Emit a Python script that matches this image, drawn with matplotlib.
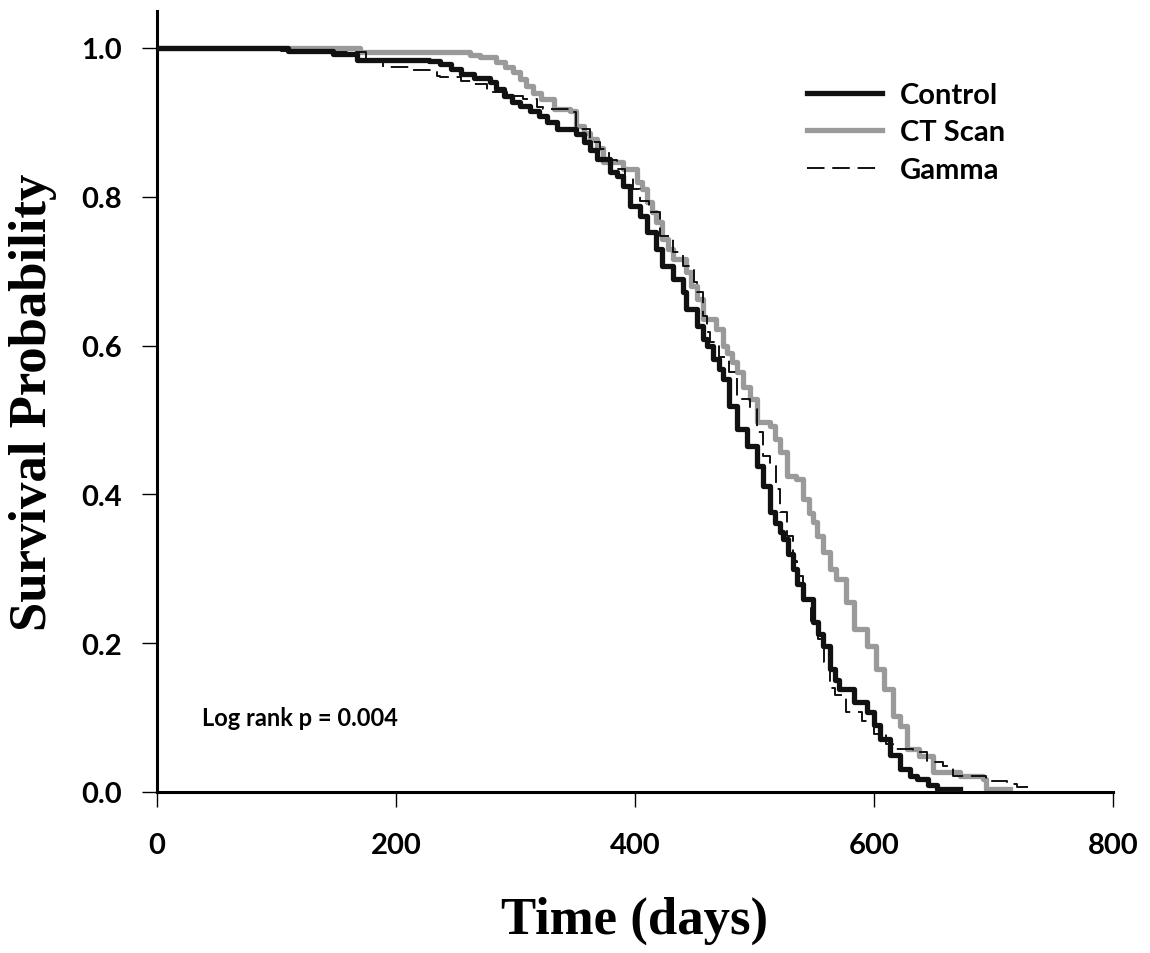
import numpy as np
import matplotlib.pyplot as plt

# Kaplan-Meier curves (time in days, survival probability)
ctrl_t = [0, 110, 147, 167, 228, 237, 246, 254, 265, 279, 284, 290, 297, 304, 312, 320, 326, 335,
          351, 357, 362, 368, 379, 385, 390, 396, 404, 410, 418, 423, 432, 440, 443, 452, 457,
          460, 465, 470, 474, 479, 485, 494, 502, 507, 513, 517, 521, 524, 528, 532, 536, 541,
          549, 553, 557, 563, 567, 571, 583, 594, 600, 605, 613, 622, 630, 636, 645, 653, 672]
ctrl_s = [1.0, 0.996, 0.992, 0.984, 0.982, 0.978, 0.972, 0.965, 0.960, 0.954, 0.945, 0.935,
          0.928, 0.922, 0.915, 0.909, 0.900, 0.891, 0.884, 0.874, 0.863, 0.851, 0.833, 0.828,
          0.815, 0.788, 0.774, 0.753, 0.730, 0.707, 0.690, 0.672, 0.649, 0.626, 0.609, 0.599,
          0.582, 0.568, 0.555, 0.519, 0.488, 0.465, 0.438, 0.411, 0.376, 0.362, 0.349, 0.340,
          0.320, 0.300, 0.280, 0.259, 0.228, 0.212, 0.196, 0.165, 0.150, 0.138, 0.121, 0.107,
          0.090, 0.071, 0.050, 0.031, 0.022, 0.017, 0.010, 0.004, 0.004]

ct_t = [0, 170, 262, 270, 284, 291, 298, 304, 309, 315, 321, 332, 346, 351, 357, 362, 368, 373,
        390, 402, 406, 410, 414, 418, 423, 428, 432, 443, 447, 452, 457, 468, 474, 477, 481, 485,
        490, 496, 502, 513, 517, 521, 527, 535, 541, 546, 549, 552, 557, 563, 568, 577, 583, 594,
        602, 608, 616, 622, 628, 638, 649, 672, 691, 694, 714]
ct_s = [1.0, 0.995, 0.990, 0.988, 0.981, 0.975, 0.968, 0.958, 0.949, 0.940, 0.931, 0.918, 0.915,
        0.895, 0.886, 0.878, 0.866, 0.847, 0.837, 0.820, 0.810, 0.793, 0.780, 0.766, 0.743, 0.730,
        0.716, 0.699, 0.680, 0.663, 0.636, 0.622, 0.599, 0.590, 0.578, 0.565, 0.545, 0.528, 0.497,
        0.492, 0.475, 0.457, 0.425, 0.421, 0.394, 0.375, 0.363, 0.344, 0.322, 0.300, 0.286, 0.255,
        0.219, 0.196, 0.165, 0.138, 0.102, 0.089, 0.058, 0.048, 0.027, 0.022, 0.017, 0.004, 0.004]

gam_t = [0, 103, 125, 175, 189, 214, 234, 237, 254, 265, 276, 293, 306, 318, 323, 346, 351, 362,
         371, 378, 385, 392, 398, 404, 412, 421, 432, 440, 449, 452, 457, 460, 463, 470, 479, 485,
         496, 502, 507, 513, 518, 521, 527, 532, 536, 541, 547, 553, 558, 563, 567, 577, 590, 600,
         610, 616, 633, 644, 658, 666, 694, 711, 720, 733]
gam_s = [1.0, 0.996, 0.994, 0.985, 0.974, 0.970, 0.963, 0.961, 0.956, 0.952, 0.941, 0.936, 0.931,
         0.921, 0.918, 0.914, 0.891, 0.874, 0.864, 0.850, 0.838, 0.825, 0.810, 0.795, 0.780, 0.747,
         0.726, 0.707, 0.685, 0.672, 0.640, 0.618, 0.605, 0.585, 0.565, 0.528, 0.515, 0.484, 0.452,
         0.438, 0.407, 0.376, 0.344, 0.310, 0.290, 0.259, 0.230, 0.205, 0.175, 0.140, 0.130, 0.107,
         0.095, 0.078, 0.065, 0.058, 0.054, 0.040, 0.035, 0.022, 0.015, 0.011, 0.007, 0.007]

xticks = [0, 200, 400, 600, 800]
yticks = [0.0, 0.2, 0.4, 0.6, 0.8, 1.0]

sans = 'Lato'
serif = 'Liberation Serif'

fig = plt.figure(figsize=(11.5, 9.54), dpi=100)
ax = fig.add_axes([0.1365, 0.1688, 0.8313, 0.8186])

ax.step(ctrl_t, ctrl_s, where='post', color='#111111', lw=3.8, label='Control', zorder=3)
ax.step(ct_t, ct_s, where='post', color='#9a9a9a', lw=3.8, label='CT Scan', zorder=2)
ax.step(gam_t, gam_s, where='post', color='#111111', lw=1.4, dashes=(9, 4),
        label='Gamma', zorder=4)

ax.set_xlim(0, 800)
ax.set_ylim(0, 1.0497)
ax.set_xticks(xticks)
ax.set_yticks(yticks)
ax.set_xticklabels([str(v) for v in xticks], fontfamily=sans, fontweight='bold', fontsize=21)
ax.set_yticklabels(['%.1f' % v for v in yticks], fontfamily=sans, fontweight='bold', fontsize=21)
ax.tick_params(direction='out', length=11, width=1)
ax.tick_params(axis='x', pad=18)
ax.tick_params(axis='y', pad=14)

for s in ['top', 'right']:
    ax.spines[s].set_visible(False)
for s in ['left', 'bottom']:
    ax.spines[s].set_linewidth(2.2)

ax.set_xlabel('Time (days)', fontfamily=serif, fontweight='bold', fontsize=38, labelpad=27)
ax.set_ylabel('Survival Probability', fontfamily=serif, fontweight='bold', fontsize=38,
              labelpad=18)

ax.text(38, 0.1, 'Log rank p = 0.004', fontfamily=sans, fontweight='bold', fontsize=17,
        va='center', ha='left')

leg = ax.legend(loc='upper left', bbox_to_anchor=(0.652, 0.943), frameon=False,
                prop={'family': sans, 'weight': 'bold', 'size': 21},
                handlelength=2.6, handletextpad=0.6, labelspacing=0.4)

fig.savefig('out.png', dpi=100)
